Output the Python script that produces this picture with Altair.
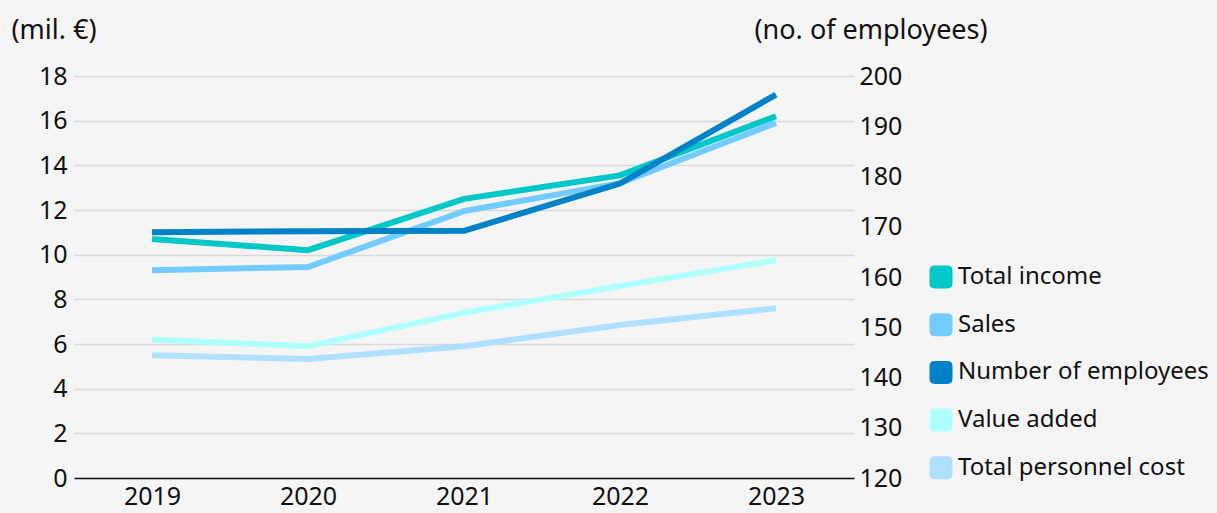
import altair as alt
import pandas as pd

years = ["2019", "2020", "2021", "2022", "2023"]

total_income = [10.7, 10.2, 12.5, 13.55, 16.2]
sales = [9.3, 9.45, 11.95, 13.2, 15.9]
value_added = [6.2, 5.9, 7.4, 8.6, 9.75]
personnel_cost = [5.5, 5.33, 5.9, 6.85, 7.6]
employees = [168.9, 169.1, 169.2, 178.6, 196.3]

series_names = [
    "Total income",
    "Sales",
    "Number of employees",
    "Value added",
    "Total personnel cost",
]
series_colors = ["#00c8c8", "#73ccff", "#0082c8", "#b0ffff", "#b0e0ff"]

money_rows = []
for name, vals in [
    ("Total income", total_income),
    ("Sales", sales),
    ("Value added", value_added),
    ("Total personnel cost", personnel_cost),
]:
    for y, v in zip(years, vals):
        money_rows.append({"year": y, "series": name, "value": v})
money = pd.DataFrame(money_rows)

staff = pd.DataFrame(
    {"year": years, "series": "Number of employees", "value": employees}
)
keys = pd.DataFrame({"series": series_names})

FONT = "Noto Sans"
INK = "#111111"
TICK_SIZE = 25
TITLE_SIZE = 27
LEGEND_SIZE = 24
rounded_square = (
    "M-1,-0.55 Q-1,-1 -0.55,-1 L0.55,-1 Q1,-1 1,-0.55 "
    "L1,0.55 Q1,1 0.55,1 L-0.55,1 Q-1,1 -1,0.55 Z"
)

color_scale = alt.Scale(domain=series_names, range=series_colors)
line_color = alt.Color("series:N", scale=color_scale, legend=None)

x = alt.X(
    "year:O",
    sort=years,
    scale=alt.Scale(paddingInner=1, paddingOuter=0.5),
    axis=alt.Axis(
        title=None,
        labelAngle=0,
        labelFont=FONT,
        labelFontSize=TICK_SIZE,
        labelColor=INK,
        labelPadding=6,
        ticks=False,
        domainColor=INK,
        domainWidth=1.5,
        grid=False,
    ),
)

left = (
    alt.Chart(money)
    .mark_line(strokeWidth=6, strokeCap="butt")
    .encode(
        x=x,
        y=alt.Y(
            "value:Q",
            scale=alt.Scale(domain=[0, 18], nice=False),
            axis=alt.Axis(
                title="(mil. €)",
                titleAngle=0,
                titleAlign="left",
                titleBaseline="alphabetic",
                titleX=-63,
                titleY=-38,
                titleFont=FONT,
                titleFontSize=TITLE_SIZE,
                titleFontWeight="normal",
                titleColor=INK,
                values=list(range(0, 19, 2)),
                labelFont=FONT,
                labelFontSize=TICK_SIZE,
                labelColor=INK,
                labelPadding=7,
                ticks=False,
                domain=False,
                grid=True,
                gridColor="#d9d9d9",
                gridWidth=1.5,
            ),
        ),
        color=line_color,
    )
)

right = (
    alt.Chart(staff)
    .mark_line(strokeWidth=6, strokeCap="butt")
    .encode(
        x=x,
        y=alt.Y(
            "value:Q",
            scale=alt.Scale(domain=[120, 200], nice=False),
            axis=alt.Axis(
                orient="right",
                title="(no. of employees)",
                titleAngle=0,
                titleAlign="left",
                titleBaseline="alphabetic",
                titleX=-100,
                titleY=-38,
                titleFont=FONT,
                titleFontSize=TITLE_SIZE,
                titleFontWeight="normal",
                titleColor=INK,
                values=list(range(120, 201, 10)),
                labelFont=FONT,
                labelFontSize=TICK_SIZE,
                labelColor=INK,
                labelPadding=5,
                ticks=False,
                domain=False,
                grid=False,
            ),
        ),
        color=line_color,
    )
)

# filled swatch marks that supply the legend, parked outside the clipped plot
legend_keys = (
    alt.Chart(keys)
    .mark_point(filled=True, clip=True, shape=rounded_square)
    .encode(
        x=alt.value(-500),
        y=alt.value(-500),
        color=alt.Color(
            "series:N",
            sort=series_names,
            scale=color_scale,
            legend=alt.Legend(
                title=None,
                orient="none",
                legendX=855,
                legendY=189,
                symbolType=rounded_square,
                symbolSize=529,
                symbolStrokeWidth=0,
                symbolOpacity=1,
                labelFont=FONT,
                labelFontSize=LEGEND_SIZE,
                labelColor=INK,
                labelOffset=5,
                labelLimit=0,
                rowPadding=23.7,
                padding=0,
            ),
        ),
    )
)

chart = (
    alt.layer(legend_keys, left, right)
    .resolve_scale(y="independent")
    .properties(
        width=780,
        height=402,
        padding={"left": 74, "top": 76, "right": 363, "bottom": 35},
        autosize=alt.AutoSizeParams(type="none"),
        background="#f5f5f5",
    )
    .configure_view(stroke=None)
)

chart.save("out.html", embed_options={"renderer": "svg", "actions": False})
